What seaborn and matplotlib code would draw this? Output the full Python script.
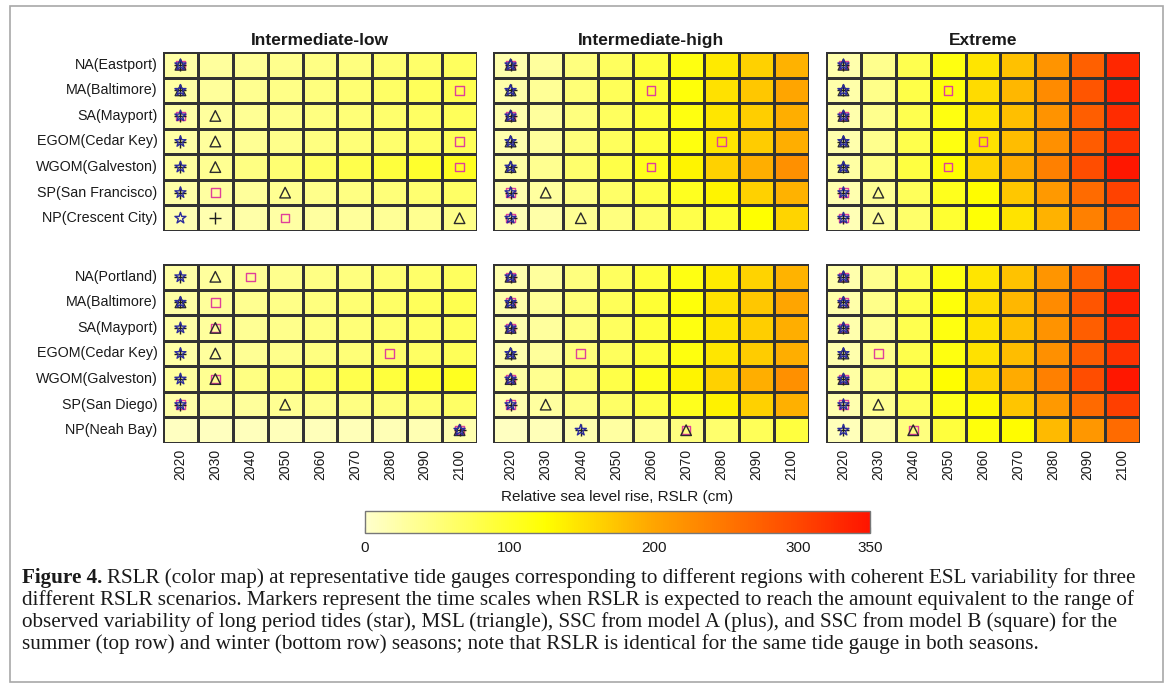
import matplotlib
matplotlib.use("Agg")
import matplotlib.pyplot as plt
import numpy as np
import pandas as pd
import seaborn as sns
from matplotlib.cm import ScalarMappable
from matplotlib.colors import LinearSegmentedColormap, Normalize
from matplotlib.patches import Rectangle

sns.set_theme(style="white")
plt.rcParams["font.family"] = ["Liberation Sans", "DejaVu Sans"]

W, H = 1168, 690

YEARS = [2020, 2030, 2040, 2050, 2060, 2070, 2080, 2090, 2100]
SCENARIOS = ["Intermediate-low", "Intermediate-high", "Extreme"]
SUMMER_GAUGES = ["NA(Eastport)", "MA(Baltimore)", "SA(Mayport)", "EGOM(Cedar Key)",
                 "WGOM(Galveston)", "SP(San Francisco)", "NP(Crescent City)"]
WINTER_GAUGES = ["NA(Portland)", "MA(Baltimore)", "SA(Mayport)", "EGOM(Cedar Key)",
                 "WGOM(Galveston)", "SP(San Diego)", "NP(Neah Bay)"]

# RSLR (cm) per gauge
RSLR_INT_LOW = {
    "NA(Eastport)": [24, 29, 34, 39, 44, 49, 55, 61, 67],
    "NA(Portland)": [24, 29, 34, 39, 44, 49, 55, 61, 67],
    "MA(Baltimore)": [25, 31, 37, 43, 49, 56, 63, 70, 77],
    "SA(Mayport)": [24, 29, 35, 41, 47, 53, 59, 65, 71],
    "EGOM(Cedar Key)": [24, 29, 35, 41, 47, 53, 59, 65, 72],
    "WGOM(Galveston)": [28, 36, 46, 56, 68, 78, 88, 98, 106],
    "SP(San Francisco)": [22, 26, 31, 36, 41, 46, 51, 57, 63],
    "SP(San Diego)": [22, 26, 31, 36, 41, 46, 51, 57, 63],
    "NP(Crescent City)": [16, 19, 22, 25, 28, 31, 34, 38, 42],
    "NP(Neah Bay)": [8, 9, 10, 11, 12, 13, 14, 16, 18],
}
RSLR_INT_HIGH = {
    "NA(Eastport)": [20, 30, 49, 68, 88, 115, 143, 163, 190],
    "NA(Portland)": [20, 30, 49, 68, 88, 114, 142, 162, 188],
    "MA(Baltimore)": [21, 33, 52, 72, 94, 120, 150, 172, 200],
    "SA(Mayport)": [20, 30, 49, 68, 89, 116, 145, 166, 192],
    "EGOM(Cedar Key)": [20, 31, 50, 69, 90, 117, 146, 167, 192],
    "WGOM(Galveston)": [25, 38, 59, 82, 107, 135, 163, 192, 222],
    "SP(San Francisco)": [18, 28, 44, 62, 82, 106, 135, 163, 190],
    "SP(San Diego)": [18, 28, 45, 63, 83, 107, 136, 164, 191],
    "NP(Crescent City)": [14, 22, 35, 49, 64, 80, 97, 125, 160],
    "NP(Neah Bay)": [8, 13, 19, 27, 36, 47, 60, 72, 87],
}
RSLR_EXTREME = {
    "NA(Eastport)": [20, 39, 77, 115, 147, 177, 218, 274, 331],
    "NA(Portland)": [20, 39, 77, 115, 147, 176, 217, 272, 330],
    "MA(Baltimore)": [21, 42, 81, 120, 155, 185, 228, 285, 338],
    "SA(Mayport)": [20, 39, 77, 115, 148, 178, 220, 276, 326],
    "EGOM(Cedar Key)": [20, 39, 78, 116, 150, 180, 222, 278, 322],
    "WGOM(Galveston)": [25, 47, 86, 127, 162, 195, 240, 295, 346],
    "SP(San Francisco)": [18, 35, 71, 108, 128, 172, 212, 262, 305],
    "SP(San Diego)": [18, 36, 72, 109, 130, 173, 213, 263, 308],
    "NP(Crescent City)": [14, 30, 61, 95, 122, 148, 190, 240, 280],
    "NP(Neah Bay)": [11, 24, 49, 88, 118, 128, 182, 215, 262],
}

# year each marker is reached, one entry per gauge row (None = not reached)
SUMMER_STAR = {
    "Intermediate-low": [2020, 2020, 2020, 2020, 2020, 2020, 2020],
    "Intermediate-high": [2020, 2020, 2020, 2020, 2020, 2020, 2020],
    "Extreme": [2020, 2020, 2020, 2020, 2020, 2020, 2020],
}
SUMMER_TRIANGLE = {
    "Intermediate-low": [2020, 2020, 2030, 2030, 2030, 2050, 2100],
    "Intermediate-high": [2020, 2020, 2020, 2020, 2020, 2030, 2040],
    "Extreme": [2020, 2020, 2020, 2020, 2020, 2030, 2030],
}
SUMMER_PLUS = {
    "Intermediate-low": [2020, 2020, 2020, 2020, 2020, 2020, 2030],
    "Intermediate-high": [2020, 2020, 2020, 2020, 2020, 2020, 2020],
    "Extreme": [2020, 2020, 2020, 2020, 2020, 2020, 2020],
}
SUMMER_SQUARE = {
    "Intermediate-low": [2020, 2100, 2020, 2100, 2100, 2030, 2050],
    "Intermediate-high": [2020, 2060, 2020, 2080, 2060, 2020, 2020],
    "Extreme": [2020, 2050, 2020, 2060, 2050, 2020, 2020],
}
WINTER_STAR = {
    "Intermediate-low": [2020, 2020, 2020, 2020, 2020, 2020, 2100],
    "Intermediate-high": [2020, 2020, 2020, 2020, 2020, 2020, 2040],
    "Extreme": [2020, 2020, 2020, 2020, 2020, 2020, 2020],
}
WINTER_TRIANGLE = {
    "Intermediate-low": [2030, 2020, 2030, 2030, 2030, 2050, 2100],
    "Intermediate-high": [2020, 2020, 2020, 2020, 2020, 2030, 2070],
    "Extreme": [2020, 2020, 2020, 2020, 2020, 2030, 2040],
}
WINTER_PLUS = {
    "Intermediate-low": [2020, 2020, 2020, 2020, 2020, 2020, 2100],
    "Intermediate-high": [2020, 2020, 2020, 2020, 2020, 2020, 2040],
    "Extreme": [2020, 2020, 2020, 2020, 2020, 2020, 2020],
}
WINTER_SQUARE = {
    "Intermediate-low": [2040, 2030, 2030, 2080, 2030, 2020, 2100],
    "Intermediate-high": [2020, 2020, 2020, 2040, 2020, 2020, 2070],
    "Extreme": [2020, 2020, 2020, 2030, 2020, 2020, 2040],
}

CBAR_TICKS = [0, 100, 200, 300, 350]
CAPTION_LINES = [
    "RSLR (color map) at representative tide gauges corresponding to different regions with coherent ESL variability for three",
    "different RSLR scenarios. Markers represent the time scales when RSLR is expected to reach the amount equivalent to the range of",
    "observed variability of long period tides (star), MSL (triangle), SSC from model A (plus), and SSC from model B (square) for the",
    "summer (top row) and winter (bottom row) seasons; note that RSLR is identical for the same tide gauge in both seasons.",
]

RSLR = {"Intermediate-low": RSLR_INT_LOW, "Intermediate-high": RSLR_INT_HIGH, "Extreme": RSLR_EXTREME}
CMAP = LinearSegmentedColormap.from_list(
    "rslr",
    [(0.0, "#FFFFCC"), (125 / 350, "#FFFF00"), (200 / 350, "#FFA500"), (300 / 350, "#FF4800"), (1.0, "#FF1400")],
)
MARKER_STYLES = [
    ("square", "s", "#E0409A", 38),
    ("triangle", "^", "#2b2b2b", 58),
    ("plus", "+", "#1f1f1f", 70),
    ("star", "*", "#2c2c9c", 70),
]


def fig_rect(x0, y0, x1, y1):
    return [x0 / W, 1 - y1 / H, (x1 - x0) / W, (y1 - y0) / H]


def draw_panel(ax, scenario, gauges, markers, show_y, show_x, show_title):
    table = pd.DataFrame([RSLR[scenario][g] for g in gauges], index=gauges, columns=YEARS)
    sns.heatmap(table, ax=ax, cmap=CMAP, vmin=0, vmax=350, cbar=False,
                linewidths=0.75, linecolor="#333333")
    for name, marker, color, size in MARKER_STYLES:
        years = markers[name][scenario]
        xs = [YEARS.index(y) + 0.5 for y in years if y is not None]
        ys = [i + 0.5 for i, y in enumerate(years) if y is not None]
        if marker == "+":
            ax.scatter(xs, ys, marker=marker, s=size, color=color, linewidths=1.0, zorder=3)
        else:
            ax.scatter(xs, ys, marker=marker, s=size, facecolors="none", edgecolors=color,
                       linewidths=1.0, zorder=3)
    ax.tick_params(length=0, pad=4)
    if show_y:
        ax.set_yticklabels(gauges, rotation=0, fontsize=10.3, color="#1a1a1a")
    else:
        ax.set_yticklabels([])
    if show_x:
        ax.set_xticklabels([str(y) for y in YEARS], rotation=90, fontsize=10, color="#1a1a1a")
    else:
        ax.set_xticklabels([])
    ax.set_xlabel("")
    ax.set_ylabel("")
    if show_title:
        ax.set_title(scenario, fontsize=12.5, fontweight="bold", pad=5, color="#1a1a1a")


def main():
    fig = plt.figure(figsize=(W / 100, H / 100), dpi=100)
    fig.patch.set_facecolor("white")

    cols = [(163, 477), (493, 809), (826, 1140)]
    rows = [(52, 231), (264, 443)]
    season_sets = [
        (SUMMER_GAUGES, {"star": SUMMER_STAR, "triangle": SUMMER_TRIANGLE,
                         "plus": SUMMER_PLUS, "square": SUMMER_SQUARE}),
        (WINTER_GAUGES, {"star": WINTER_STAR, "triangle": WINTER_TRIANGLE,
                         "plus": WINTER_PLUS, "square": WINTER_SQUARE}),
    ]
    first_ax = None
    for r, (y0, y1) in enumerate(rows):
        gauges, markers = season_sets[r]
        for c, (x0, x1) in enumerate(cols):
            ax = fig.add_axes(fig_rect(x0, y0, x1, y1))
            if first_ax is None:
                first_ax = ax
            draw_panel(ax, SCENARIOS[c], gauges, markers,
                       show_y=(c == 0), show_x=(r == 1), show_title=(r == 0))

    cax = fig.add_axes(fig_rect(365, 511, 870, 533))
    cb = fig.colorbar(ScalarMappable(norm=Normalize(0, 350), cmap=CMAP), cax=cax,
                      orientation="horizontal", ticks=CBAR_TICKS)
    cb.ax.tick_params(direction="in", length=4, width=0.8, labelsize=11, color="#333333",
                      labelcolor="#1a1a1a", pad=6)
    cb.outline.set_edgecolor("#777777")
    cb.outline.set_linewidth(1.0)
    fig.text(617 / W, 1 - 497 / H, "Relative sea level rise, RSLR (cm)", ha="center",
             va="center", fontsize=11, color="#1a1a1a")

    serif = ["Liberation Serif", "DejaVu Serif"]
    cap_size = 15.2
    line_y = [583, 605, 627, 649]
    head = fig.text(22 / W, 1 - line_y[0] / H, "Figure 4.", family=serif, fontweight="bold",
                    fontsize=cap_size, va="baseline", color="#1a1a1a")
    first_ax.annotate(CAPTION_LINES[0], xy=(1, 0), xycoords=head, xytext=(3.5, 0),
                      textcoords="offset points", va="bottom", ha="left", family=serif,
                      fontsize=cap_size, color="#1a1a1a", annotation_clip=False)
    for text, y in zip(CAPTION_LINES[1:], line_y[1:]):
        fig.text(22 / W, 1 - y / H, text, family=serif, fontsize=cap_size, va="baseline",
                 color="#1a1a1a")

    fig.add_artist(Rectangle((10 / W, 1 - 682 / H), 1153 / W, 676 / H, transform=fig.transFigure,
                             fill=False, edgecolor="#a8a8a8", linewidth=1.2))

    fig.savefig("out.png", dpi=100)
    plt.close(fig)


if __name__ == "__main__":
    main()
